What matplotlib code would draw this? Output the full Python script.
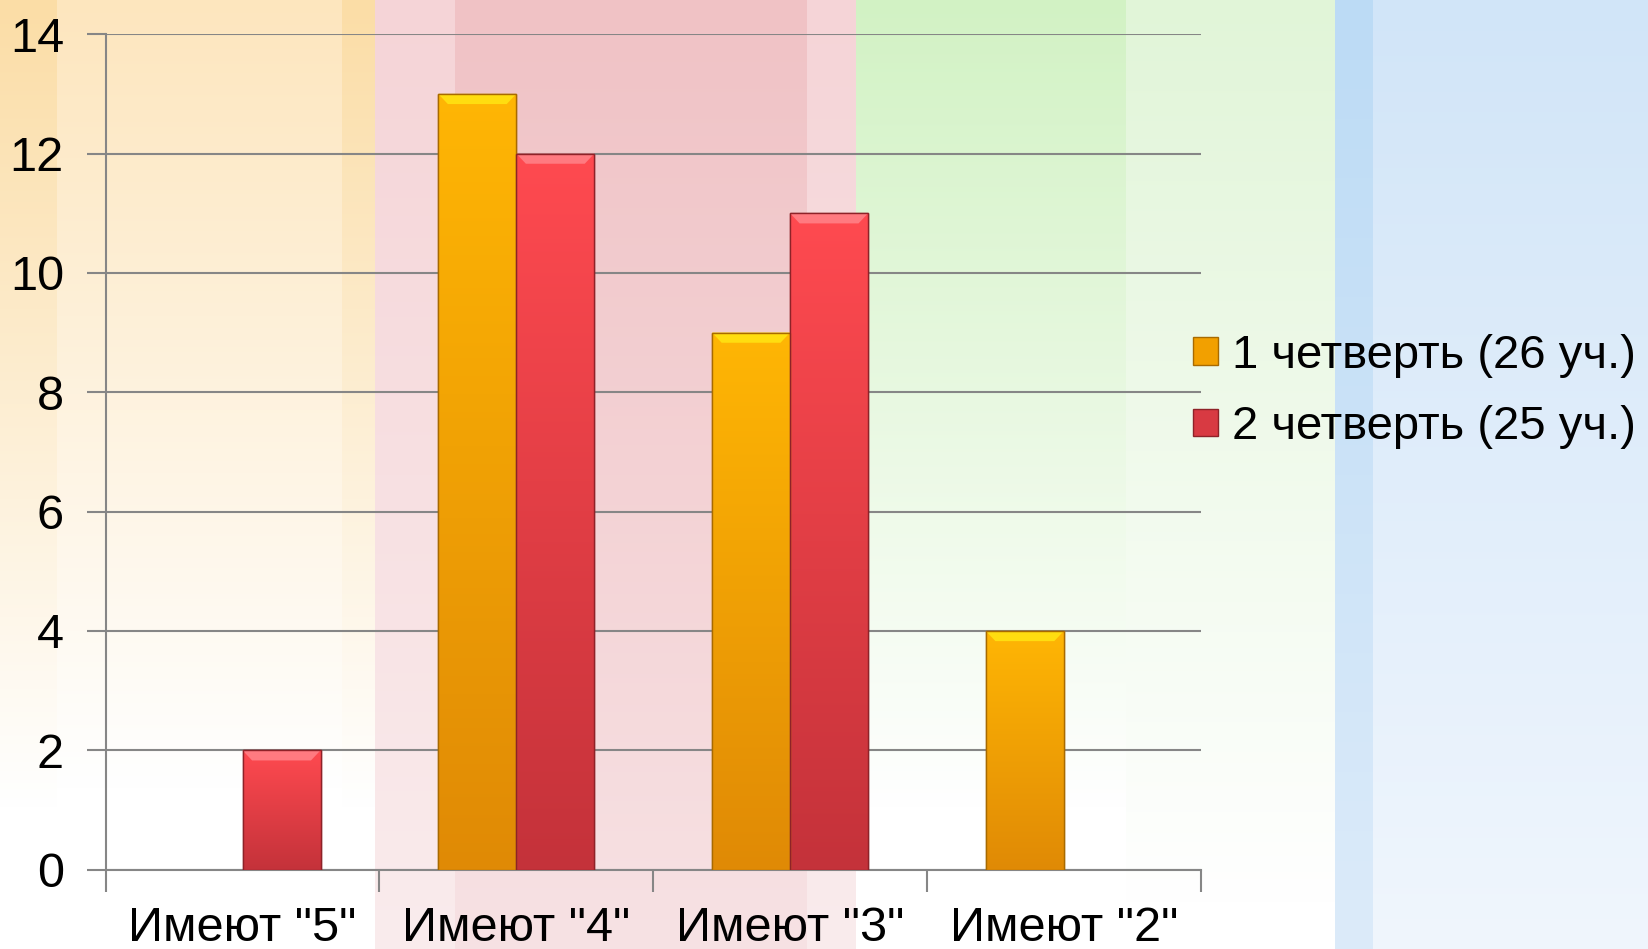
import numpy as np
import matplotlib.pyplot as plt
from matplotlib.colors import to_rgb
from matplotlib.patches import Patch, Polygon

# Данные диаграммы
categories = ['Имеют "5"', 'Имеют "4"', 'Имеют "3"', 'Имеют "2"']
q1_values = [0, 13, 9, 4]
q2_values = [2, 12, 11, 0]
series_names = ['1 четверть (26 уч.)', '2 четверть (25 уч.)']
y_ticks = [0, 2, 4, 6, 8, 10, 12, 14]

W, H = 1648, 949
plt.rcParams['font.family'] = ['Liberation Sans', 'DejaVu Sans']

fig = plt.figure(figsize=(W / 100, H / 100), dpi=100)

# фон слайда: вертикальные полосы с градиентом к низу
bands = [
    (0, 57, '#FBDDA6', '#FFFFFF', 0.85),
    (57, 342, '#FDE6BE', '#FFFFFF', 0.83),
    (342, 375, '#FBDDA6', '#FFFFFF', 0.85),
    (375, 455, '#F5D4D7', '#FAECED', 1.0),
    (455, 807, '#F0C2C5', '#F7E2E4', 1.0),
    (807, 856, '#F5D4D7', '#FAECED', 1.0),
    (856, 1126, '#D2F2C4', '#FFFFFF', 0.85),
    (1126, 1335, '#E1F5D8', '#FFFFFF', 0.95),
    (1335, 1373, '#BCDBF5', '#DCEBFA', 1.0),
    (1373, 1648, '#D1E5F8', '#F0F6FD', 1.0),
]
bg = np.ones((H, W, 3))
yy = np.arange(H)[:, None]
for x0, x1, top, bot, fade in bands:
    t = np.clip(yy / (fade * H), 0, 1)
    c = (1 - t) * np.array(to_rgb(top)) + t * np.array(to_rgb(bot))
    bg[:, x0:x1, :] = c[:, None, :]

bg_ax = fig.add_axes([0, 0, 1, 1], zorder=-1)
bg_ax.imshow(bg, aspect='auto', interpolation='bilinear')
bg_ax.axis('off')

ax = fig.add_axes([0.0641, 0.0836, 0.6645, 0.8803], zorder=1)
ax.patch.set_alpha(0)

x = np.arange(len(categories))
w = 0.285
grey = '#868686'

def gradient_bars(xpos, vals, top_col, bot_col, bevel_col, edge_col):
    bars = ax.bar(xpos, vals, w, color=bot_col, edgecolor=edge_col, linewidth=1.0, zorder=3)
    grad = np.linspace(0, 1, 256)[:, None]
    ct = np.array(to_rgb(top_col))
    cb = np.array(to_rgb(bot_col))
    img = ((1 - grad) * ct + grad * cb)[:, None, :]
    for b in bars:
        h = b.get_height()
        if h <= 0:
            b.set_visible(False)
            continue
        x0 = b.get_x()
        x1 = x0 + b.get_width()
        im = ax.imshow(img, extent=[x0, x1, 0, h], aspect='auto', zorder=3.5,
                       origin='upper')
        im.set_clip_path(b)
        dx, dy = 0.035, 0.17
        ax.add_patch(Polygon([(x0, h), (x1, h), (x1 - dx, h - dy), (x0 + dx, h - dy)],
                             closed=True, facecolor=bevel_col, edgecolor='none', zorder=4))
        ax.add_patch(plt.Rectangle((x0, 0), x1 - x0, h, fill=False,
                                   edgecolor=edge_col, linewidth=1.0, zorder=4.5))
    return bars

gradient_bars(x - w / 2, q1_values, '#FFB604', '#E08A06', '#FFDD10', '#A86A00')
gradient_bars(x + w / 2, q2_values, '#FF4A50', '#C4323A', '#FF7A80', '#8E2228')

ax.set_xlim(-0.5, len(categories) - 0.5)
ax.set_ylim(0, 14)
ax.set_yticks(y_ticks)
ax.set_yticklabels([str(v) for v in y_ticks])
ax.yaxis.grid(True, color=grey, linewidth=1.5, zorder=0)
ax.set_axisbelow(True)

ax.set_xticks(np.arange(len(categories) + 1) - 0.5)
ax.set_xticklabels([])
ax.set_xticks(x, minor=True)
ax.set_xticklabels(categories, minor=True)
ax.tick_params(axis='x', which='major', length=16, width=1.5, color=grey, direction='out')
ax.tick_params(axis='x', which='minor', length=0, pad=26, labelsize=35)
ax.tick_params(axis='y', length=14, width=1.5, color=grey, pad=16, labelsize=35)

for s in ['top', 'right']:
    ax.spines[s].set_visible(False)
for s in ['left', 'bottom']:
    ax.spines[s].set_color(grey)
    ax.spines[s].set_linewidth(1.5)

handles = [Patch(facecolor='#F2A000', edgecolor='#A86A00'),
           Patch(facecolor='#D83A42', edgecolor='#8E2228')]
fig.legend(handles, series_names, loc='center left',
           bbox_to_anchor=(1193 / W, 1 - 391.5 / H), frameon=False,
           fontsize=34, borderpad=0, borderaxespad=0, handlelength=0.53,
           handleheight=0.53, handletextpad=0.3, labelspacing=0.58)

fig.savefig('out.png', dpi=100)
